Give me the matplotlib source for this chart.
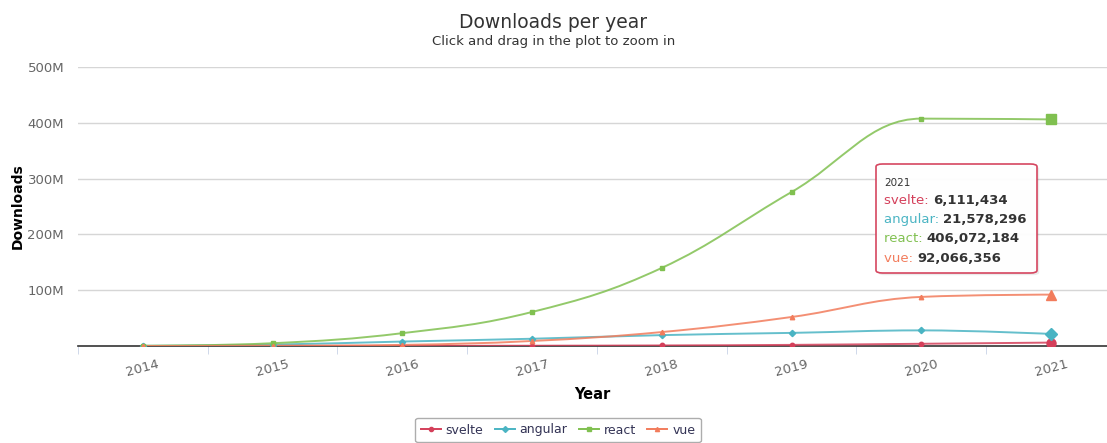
import matplotlib
matplotlib.use("Agg")
import matplotlib.pyplot as plt
from matplotlib.path import Path
from matplotlib.patches import PathPatch, FancyBboxPatch
from matplotlib.lines import Line2D
from matplotlib.ticker import FuncFormatter, FixedLocator

plt.rcParams['font.family'] = ['DejaVu Sans']

# data
years = ['2014', '2015', '2016', '2017', '2018', '2019', '2020', '2021']
svelte = [0.0, 0.05e6, 0.2e6, 0.5e6, 1.0e6, 2.0e6, 4.0e6, 6111434]
angular = [0.3e6, 2.5e6, 8.0e6, 13.0e6, 19.5e6, 23.5e6, 28.0e6, 21578296]
react = [0.5e6, 5.0e6, 23.0e6, 61.0e6, 140.0e6, 276.0e6, 407.5e6, 406072184]
vue = [0.0, 0.5e6, 2.0e6, 9.0e6, 25.0e6, 52.0e6, 88.0e6, 92066356]

names = ['svelte', 'angular', 'react', 'vue']
series = [svelte, angular, react, vue]
colors = ['#d43f5a', '#4ab4c3', '#80c050', '#f27c5c']
markers = ['o', 'D', 's', '^']


def spline_path(xs, ys, smoothing=1.5):
    # highcharts-like spline control points
    n = len(xs)
    left = [None] * n
    right = [None] * n
    denom = smoothing + 1
    for i in range(1, n - 1):
        px, py = xs[i], ys[i]
        lx, ly = xs[i - 1], ys[i - 1]
        nx, ny = xs[i + 1], ys[i + 1]
        lcx = (smoothing * px + lx) / denom
        lcy = (smoothing * py + ly) / denom
        rcx = (smoothing * px + nx) / denom
        rcy = (smoothing * py + ny) / denom
        if rcx != lcx:
            corr = (rcy - lcy) * (rcx - px) / (rcx - lcx) + py - rcy
            lcy += corr
            rcy += corr
        if lcy > max(ly, py):
            lcy = max(ly, py)
            rcy = 2 * py - lcy
        elif lcy < min(ly, py):
            lcy = min(ly, py)
            rcy = 2 * py - lcy
        if rcy > max(py, ny):
            rcy = max(py, ny)
            lcy = 2 * py - rcy
        elif rcy < min(py, ny):
            rcy = min(py, ny)
            lcy = 2 * py - rcy
        left[i] = (lcx, lcy)
        right[i] = (rcx, rcy)
    verts = [(xs[0], ys[0])]
    codes = [Path.MOVETO]
    for i in range(1, n):
        c1 = right[i - 1] if right[i - 1] is not None else (xs[i - 1], ys[i - 1])
        c2 = left[i] if left[i] is not None else (xs[i], ys[i])
        verts += [c1, c2, (xs[i], ys[i])]
        codes += [Path.CURVE4] * 3
    return Path(verts, codes)


fig = plt.figure(figsize=(11.07, 4.43), dpi=100)
ax = fig.add_axes([78 / 1107, 1 - 346 / 443, 1 - 78 / 1107, (346 - 67) / 443])

xs = list(range(len(years)))
for name, vals, col, mk in zip(names, series, colors, markers):
    ax.add_patch(PathPatch(spline_path(xs, vals), facecolor='none', edgecolor=col,
                           lw=1.4, alpha=0.85, zorder=3))
    ax.plot(xs[:-1], vals[:-1], ls='none', marker=mk, ms=3.2, color=col, zorder=4)
    ax.plot(xs[-1:], vals[-1:], ls='none', marker=mk, ms=6.5, color=col, zorder=5)

ax.set_xlim(-0.5, 7 + (1107 - 1051) / 130)
ax.set_ylim(0, 500e6)
ax.set_xticks(xs)
ax.set_xticklabels(years, rotation=15, color='#666666', fontsize=9.5)
ax.xaxis.set_minor_locator(FixedLocator([i - 0.5 for i in range(9)]))
ax.tick_params(axis='x', which='major', length=0, pad=8)
ax.tick_params(axis='x', which='minor', length=6, color='#c8d2e6')
ax.set_yticks([100e6, 200e6, 300e6, 400e6, 500e6])
ax.yaxis.set_major_formatter(FuncFormatter(lambda v, p: '%dM' % round(v / 1e6)))
ax.tick_params(axis='y', length=0, pad=10, labelcolor='#666666', labelsize=9.5)
ax.grid(axis='y', color='#d6d6d6', lw=1)
ax.set_axisbelow(True)
for s in ['top', 'right', 'left']:
    ax.spines[s].set_visible(False)
ax.spines['bottom'].set_color('#333333')
ax.spines['bottom'].set_linewidth(1.2)
ax.spines['bottom'].set_zorder(2)

ax.set_xlabel('Year', fontsize=10.5, fontweight='bold', labelpad=6)
ax.set_ylabel('Downloads', fontsize=10, fontweight='bold')
ax.yaxis.set_label_coords(25 / 1107, 1 - 206 / 443, transform=fig.transFigure)

fig.text(0.5, 1 - 22 / 443, 'Downloads per year', ha='center', va='center',
         fontsize=13.5, color='#333333')
fig.text(0.5, 1 - 42 / 443, 'Click and drag in the plot to zoom in', ha='center',
         va='center', fontsize=9.5, color='#333333')

# tooltip
tx0, ty0, tx1, ty1 = 876 / 1107, 1 - 273 / 443, 1037 / 1107, 1 - 164 / 443
shadow = FancyBboxPatch((tx0 + 0.002, ty0 - 0.005), tx1 - tx0, ty1 - ty0,
                        boxstyle='round,pad=0,rounding_size=0.006',
                        transform=fig.transFigure, fc='#000000', ec='none',
                        alpha=0.08, zorder=9)
fig.patches.append(shadow)
tip = FancyBboxPatch((tx0, ty0), tx1 - tx0, ty1 - ty0,
                     boxstyle='round,pad=0,rounding_size=0.006',
                     transform=fig.transFigure, fc='#ffffff', ec=colors[0],
                     lw=1.2, alpha=0.96, zorder=10)
fig.patches.append(tip)
fig.text(884 / 1107, 1 - 183 / 443, years[-1], fontsize=7.5, color='#333333',
         va='center', zorder=11)
for k, (name, vals, col) in enumerate(zip(names, series, colors)):
    yy = 1 - (201 + k * 19) / 443
    t = fig.text(884 / 1107, yy, name + ': ', fontsize=9.5, color=col, va='center',
                 zorder=11)
    fig.canvas.draw()
    bb = t.get_window_extent()
    fig.text(bb.x1 / 1107, yy, '{:,}'.format(int(vals[-1])), fontsize=9.5,
             fontweight='bold', color='#333333', va='center', zorder=11)

# legend
handles = [Line2D([], [], color=c, marker=m, ms=3, lw=1.4) for c, m in zip(colors, markers)]
leg = fig.legend(handles, names, loc='center', bbox_to_anchor=(558 / 1107, 1 - 430 / 443),
                 ncol=4, frameon=True, fontsize=9, handlelength=1.6, columnspacing=0.9,
                 handletextpad=0.4, borderpad=0.45, fancybox=True)
leg.get_frame().set_edgecolor('#999999')
leg.get_frame().set_linewidth(1)
for t in leg.get_texts():
    t.set_color('#333355')

fig.savefig('out.png', dpi=100)
